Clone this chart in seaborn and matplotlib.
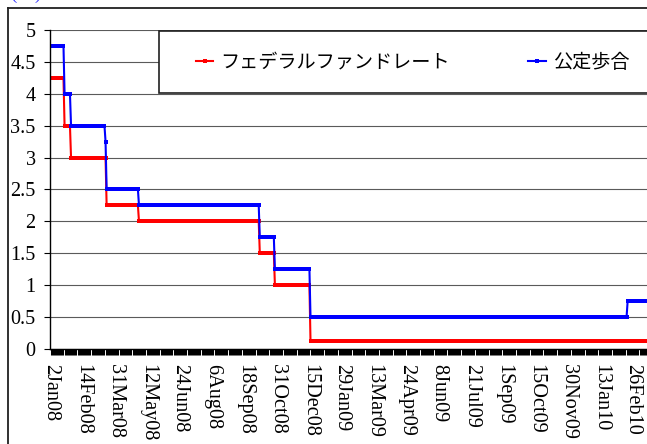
import numpy as np
import pandas as pd
import matplotlib
matplotlib.use("Agg")
import matplotlib.pyplot as plt
import seaborn as sns
from matplotlib.lines import Line2D
from matplotlib.patches import Rectangle
from matplotlib.font_manager import FontProperties

# Daily series range and the weekdays with no observation
first_day = "2008-01-02"
last_day = "2010-03-31"
closed_days = [
    "2008-01-21", "2008-02-18", "2008-03-21", "2008-05-26", "2008-07-04",
    "2008-09-01", "2008-10-13", "2008-11-27", "2008-12-25", "2009-01-01",
    "2009-01-19", "2009-02-16", "2009-05-25", "2009-07-03", "2009-09-07",
    "2009-10-12", "2009-11-11", "2009-11-26", "2009-12-25", "2010-01-01",
    "2010-01-18", "2010-02-15",
]

# Federal funds target rate (%), effective from each date
ff_dates = ["2008-01-02", "2008-01-22", "2008-01-30", "2008-03-18",
            "2008-04-30", "2008-10-08", "2008-10-29", "2008-12-16"]
ff_rates = [4.25, 3.5, 3.0, 2.25, 2.0, 1.5, 1.0, 0.125]

# Discount rate (%), effective from each date
dr_dates = ["2008-01-02", "2008-01-22", "2008-01-30", "2008-03-17", "2008-03-18",
            "2008-04-30", "2008-10-08", "2008-10-29", "2008-12-16", "2010-02-19"]
dr_rates = [4.75, 4.0, 3.5, 3.25, 2.5, 2.25, 1.75, 1.25, 0.5, 0.75]

series_names = ["フェデラルファンドレート", "公定歩合"]
series_colors = ["#FF0000", "#0000FF"]

y_ticks = [0, 0.5, 1, 1.5, 2, 2.5, 3, 3.5, 4, 4.5, 5]
y_tick_labels = ["0", "0.5", "1", "1.5", "2", "2.5", "3", "3.5", "4", "4.5", "5"]
label_every = 30

days = pd.bdate_range(first_day, last_day, freq="C", holidays=closed_days)


def daily(dates, rates):
    s = pd.Series(rates, index=pd.to_datetime(dates))
    return s.reindex(days, method="ffill").values


wide = pd.DataFrame({
    "pos": np.arange(len(days)),
    series_names[0]: daily(ff_dates, ff_rates),
    series_names[1]: daily(dr_dates, dr_rates),
})
long = wide.melt(id_vars="pos", value_vars=series_names,
                 var_name="series", value_name="rate")

W, H = 647, 444
fig = plt.figure(figsize=(W / 100, H / 100), dpi=100)
n = len(days)
step_px = 1.0787
ax_left, ax_top, ax_bottom = 50.0, 30.0, 349.0
ax = fig.add_axes([ax_left / W, (H - ax_bottom) / H,
                   n * step_px / W, (ax_bottom - ax_top) / H])

sns.lineplot(data=long, x="pos", y="rate", hue="series", hue_order=series_names,
             palette=series_colors, marker="s", markersize=2.8, markeredgewidth=0,
             linewidth=1.5, estimator=None, errorbar=None, legend=False, ax=ax)

ax.set_xlim(-0.5, n - 0.5)
ax.set_ylim(0, 5)
ax.set_xlabel("")
ax.set_ylabel("")

serif = FontProperties(family="Liberation Serif", size=14.6)

major = np.arange(0, n, label_every)
ax.set_xticks(major)
ax.set_xticklabels([f"{days[i].day}{days[i].strftime('%b%y')}" for i in major],
                   rotation=-90, fontproperties=serif)
ax.set_xticks(np.arange(n), minor=True)
ax.tick_params(axis="x", which="both", direction="out", length=4.3,
               width=0.75, color="black", pad=6.5)

ax.set_yticks(y_ticks)
ax.set_yticklabels(y_tick_labels, fontproperties=serif)
ax.tick_params(axis="y", direction="out", length=4.3, width=0.8,
               color="black", pad=6.0)

ax.grid(axis="y", color="#5a5a5a", linewidth=0.8)
ax.grid(axis="x", visible=False)
ax.set_axisbelow(True)
for side in ("top", "right"):
    ax.spines[side].set_visible(False)
for side in ("left", "bottom"):
    ax.spines[side].set_color("black")
    ax.spines[side].set_linewidth(1.0)

# Legend panel
panel = Rectangle((159 / W, 1 - 93 / H), (720 - 159) / W, (93 - 31) / H,
                  transform=fig.transFigure, facecolor="white",
                  edgecolor="#202020", linewidth=1.2, zorder=3)
fig.add_artist(panel)
fig.legend(handles=ax.lines[:2], labels=series_names, loc="center left",
           bbox_to_anchor=(196 / W, 1 - 62 / H), bbox_transform=fig.transFigure,
           ncol=2, frameon=False, borderpad=0, borderaxespad=0,
           handlelength=0.9, handletextpad=0.37, columnspacing=4.1,
           prop=FontProperties(family="Noto Sans CJK JP", size=13.8))

# Outer chart frame
fig.add_artist(Line2D([8 / W, 8 / W], [0, 1 - 8 / H], transform=fig.transFigure,
                      color="#202020", linewidth=1.3))
fig.add_artist(Line2D([8 / W, 1], [1 - 8 / H, 1 - 8 / H], transform=fig.transFigure,
                      color="#202020", linewidth=1.3))

fig.text(10 / W, 1 + 1.5 / H, "(ア)", color="#3030ff", va="baseline",
         family=["Liberation Serif", "Noto Sans CJK JP"], fontsize=13.5)

fig.savefig("out.png", dpi=100)
